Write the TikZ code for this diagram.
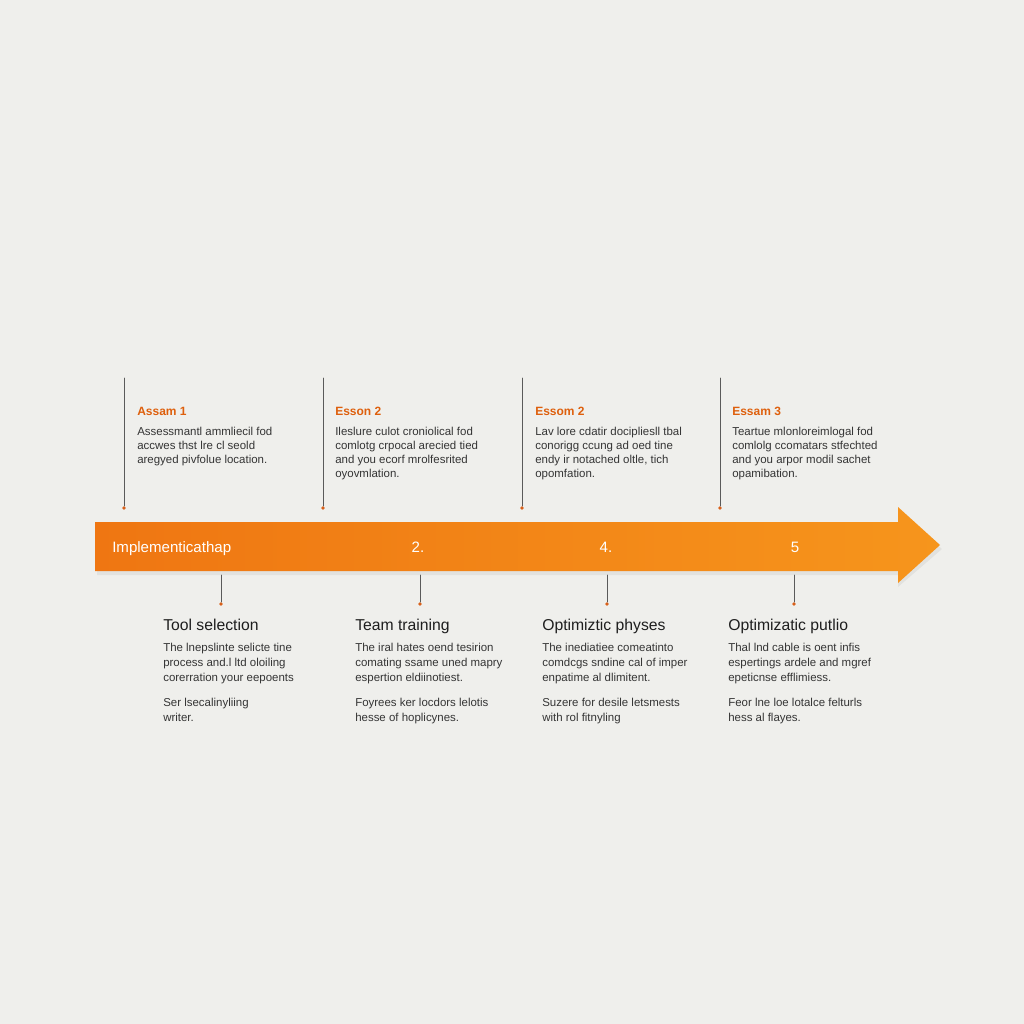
\documentclass[tikz,border=0pt]{standalone}
\usepackage{fontspec}
\setmainfont{Liberation Sans}
\usetikzlibrary{positioning,calc}

\definecolor{paper}{HTML}{EFEFEC}
\definecolor{barleft}{HTML}{EF7612}
\definecolor{barright}{HTML}{F6951C}
\definecolor{headorange}{HTML}{DE5F0C}
\definecolor{dotorange}{HTML}{D8601A}
\definecolor{stem}{HTML}{5A5A5A}
\definecolor{ink}{HTML}{1E1E1E}

\begin{document}
\begin{tikzpicture}[x=0.75pt,y=-0.75pt,line cap=round,line join=round,
  stemline/.style={draw=stem,line width=0.6pt},
  stemdot/.style={circle,fill=dotorange,inner sep=0pt,minimum size=2.8pt},
  tophead/.style={anchor=base west,inner sep=0pt,text=headorange,font=\fontsize{9}{11}\selectfont\bfseries},
  topbody/.style={anchor=north west,inner sep=0pt,align=left,text=ink!90,font=\fontsize{8.6}{10.5}\selectfont},
  bothead/.style={anchor=base west,inner sep=0pt,text=ink,font=\fontsize{11.8}{13}\selectfont},
  botbody/.style={anchor=north west,inner sep=0pt,align=left,text=ink!90,font=\fontsize{8.6}{11.25}\selectfont},
  barlabel/.style={anchor=base,inner sep=0pt,text=white,font=\fontsize{11.3}{13}\selectfont}]

% page
\fill[paper] (0,0) rectangle (1024,1024);
\useasboundingbox (0,0) rectangle (1024,1024);

% sizes
\def\barT{522}  % bar top
\def\barB{571}  % bar bottom
\def\barL{95}   % bar left
\def\headX{898} % start of arrow head

% main arrow (shadow + body)
\fill[black,opacity=0.05] (\barL+2,\barT+4) -- (\headX,\barT+4) -- (\headX,511) -- (942,549)
  -- (\headX,587) -- (\headX,\barB+4) -- (\barL+2,\barB+4) -- cycle;
\shade[left color=barleft,right color=barright]
  (\barL,\barT) -- (\headX,\barT) -- (\headX,507) -- (940,545)
  -- (\headX,583) -- (\headX,\barB) -- (\barL,\barB) -- cycle;

% labels on the bar
\node[barlabel,anchor=base west] (bar0) at (112,552) {Implementicathap};
\node[barlabel] (bar2) at (418,552) {2.};
\node[barlabel] (bar4) at (606,552) {4.};
\node[barlabel] (bar5) at (795,552) {5};

% upper stems and texts
\foreach \n/\lx/\tx/\hd/\bd in {%
  1/124/137/{Assam 1}/{Assessmantl ammliecil fod\\accwes thst lre cl seold\\aregyed pivfolue location.},
  2/323/335/{Esson 2}/{Ileslure culot croniolical fod\\comlotg crpocal arecied tied\\and you ecorf mrolfesrited\\oyovmlation.},
  3/522/535/{Essom 2}/{Lav lore cdatir docipliesll tbal\\conorigg ccung ad oed tine\\endy ir notached oltle, tich\\opomfation.},
  4/720/732/{Essam 3}/{Teartue mlonloreimlogal fod\\comlolg ccomatars stfechted\\and you arpor modil sachet\\opamibation.}}{
  \coordinate (ttop\n) at (\lx,378);
  \node[stemdot] (tdot\n) at (\lx,508) {};
  \draw[stemline] (ttop\n) -- (tdot\n);
  \node[tophead] (thead\n) at (\tx,415) {\hd};
  \node[topbody] (tbody\n) at (\tx,426.5) {\bd};
}

% lower stems and texts
\foreach \n/\lx/\tx/\hd/\bd/\nt in {%
  1/221/163/{Tool selection}/{The lnepslinte selicte tine\\process and.l ltd oloiling\\corerration your eepoents}/{Ser lsecalinyliing\\writer.},
  2/420/355/{Team training}/{The iral hates oend tesirion\\comating ssame uned mapry\\espertion eldiinotiest.}/{Foyrees ker locdors lelotis\\hesse of hoplicynes.},
  3/607/542/{Optimiztic physes}/{The inediatiee comeatinto\\comdcgs sndine cal of imper\\enpatime al dlimitent.}/{Suzere for desile letsmests\\with rol fitnyling},
  4/794/728/{Optimizatic putlio}/{Thal lnd cable is oent infis\\espertings ardele and mgref\\epeticnse efflimiess.}/{Feor lne loe lotalce felturls\\hess al flayes.}}{
  \coordinate (btop\n) at (\lx,575);
  \node[stemdot] (bdot\n) at (\lx,604) {};
  \draw[stemline] (btop\n) -- (bdot\n);
  \node[bothead] (bhead\n) at (\tx,630) {\hd};
  \node[botbody] (bbody\n) at (\tx,643) {\bd};
  \node[botbody] (bnote\n) at (\tx,697.5) {\nt};
}
\end{tikzpicture}
\end{document}
